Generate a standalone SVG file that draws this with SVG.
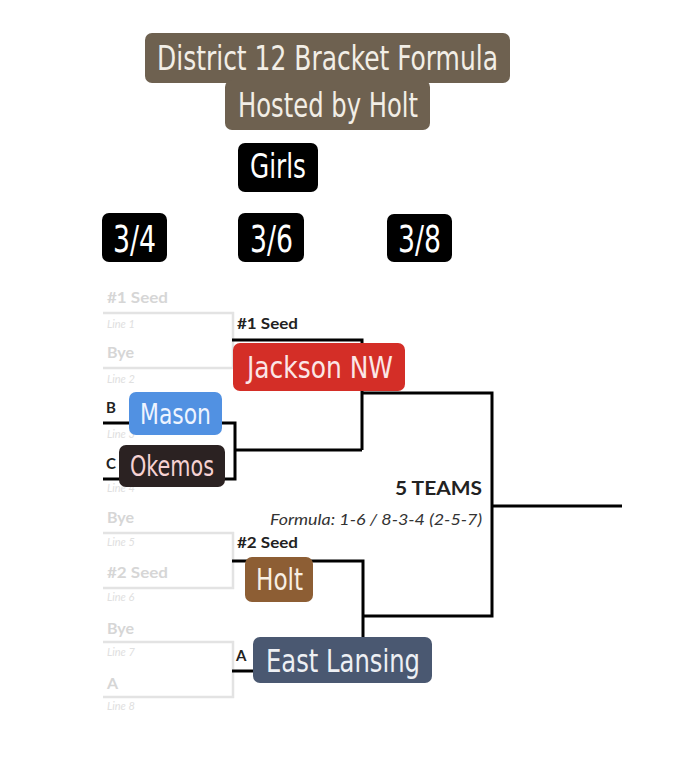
<svg xmlns="http://www.w3.org/2000/svg" width="700" height="768" viewBox="0 0 700 768">
<style>
.cond{font-family:"Liberation Sans Narrow","DejaVu Sans Condensed","Roboto",sans-serif;font-stretch:condensed}
.fade{fill:#d6d6d6;font-family:Lato,"Open Sans",sans-serif;font-weight:bold;font-size:16px}
.fline{fill:#e0e0e0;font-family:Lato,"Open Sans",sans-serif;font-style:italic;font-size:11px}
.gl{stroke:#e3e3e3;stroke-width:2.5;fill:none}
.bl{stroke:#000;stroke-width:3;fill:none}
.lab{fill:#222;font-family:Lato,"Open Sans",sans-serif;font-weight:bold;font-size:15px}
</style>
<rect width="700" height="768" fill="#fff"/>
<g id="title">
<rect x="145" y="33" width="365" height="50" rx="7" fill="#6e6150"/>
<rect x="225" y="80" width="205" height="50" rx="7" fill="#6e6150"/>
<text class="cond" x="157" y="70" font-size="34" fill="#f2eee6" textLength="341" lengthAdjust="spacingAndGlyphs">District 12 Bracket Formula</text>
<text class="cond" x="238" y="117" font-size="34" fill="#f2eee6" textLength="180" lengthAdjust="spacingAndGlyphs">Hosted by Holt</text>
</g>
<g id="girls">
<rect x="238" y="143" width="80" height="49" rx="7" fill="#000"/>
<text class="cond" x="250" y="178" font-size="34" fill="#fff" textLength="56" lengthAdjust="spacingAndGlyphs">Girls</text>
</g>
<g id="d34"><rect x="102" y="213" width="65" height="49" rx="7" fill="#000"/><text class="cond" x="113" y="252" font-size="37" fill="#fff" textLength="43" lengthAdjust="spacingAndGlyphs">3/4</text></g>
<g id="d36"><rect x="238" y="213" width="66" height="49" rx="7" fill="#000"/><text class="cond" x="250" y="252" font-size="37" fill="#fff" textLength="43" lengthAdjust="spacingAndGlyphs">3/6</text></g>
<g id="d38"><rect x="387" y="214" width="65" height="48" rx="7" fill="#000"/><text class="cond" x="398" y="252" font-size="37" fill="#fff" textLength="43" lengthAdjust="spacingAndGlyphs">3/8</text></g>
<g id="faded">
<path class="gl" d="M103 313H233V368H103M103 533H233V588H103M103 642H233V697H103"/>
<text class="fade" x="107" y="303" textLength="61" lengthAdjust="spacingAndGlyphs">#1 Seed</text>
<text class="fline" x="107" y="328">Line 1</text>
<text class="fade" x="107" y="358">Bye</text>
<text class="fline" x="107" y="383">Line 2</text>
<text class="fline" x="107" y="438">Line 3</text>
<text class="fline" x="107" y="492">Line 4</text>
<text class="fade" x="107" y="523">Bye</text>
<text class="fline" x="107" y="546">Line 5</text>
<text class="fade" x="107" y="578" textLength="61" lengthAdjust="spacingAndGlyphs">#2 Seed</text>
<text class="fline" x="107" y="601">Line 6</text>
<text class="fade" x="107" y="634">Bye</text>
<text class="fline" x="107" y="656">Line 7</text>
<text class="fade" x="107" y="689">A</text>
<text class="fline" x="107" y="710">Line 8</text>
</g>
<g id="connectors">
<path class="bl" d="M103 423H235V479H103M235 450H362M232 340H362V450M232 561H363V637M363 616H492V393H362M492 506H622M232 671H256"/>
</g>
<g id="labels">
<text class="lab" x="237" y="329" textLength="61" lengthAdjust="spacingAndGlyphs">#1 Seed</text>
<text class="lab" x="237" y="548" textLength="61" lengthAdjust="spacingAndGlyphs">#2 Seed</text>
<text class="lab" x="106" y="413">B</text>
<text class="lab" x="106" y="469">C</text>
<text class="lab" x="236" y="661">A</text>
<text x="482" y="495" text-anchor="end" font-family="Lato,'Open Sans',sans-serif" font-weight="bold" font-size="19" fill="#222" textLength="87" lengthAdjust="spacingAndGlyphs">5 TEAMS</text>
<text x="482" y="525" text-anchor="end" font-family="Lato,'Open Sans',sans-serif" font-style="italic" font-size="16" fill="#333" textLength="212" lengthAdjust="spacingAndGlyphs">Formula: 1-6 / 8-3-4 (2-5-7)</text>
</g>
<g id="jackson"><rect x="233" y="343" width="172" height="48" rx="7" fill="#d42e27"/><text class="cond" x="247" y="378" font-size="31" fill="#fbe6e6" textLength="146" lengthAdjust="spacingAndGlyphs">Jackson NW</text></g>
<g id="mason"><rect x="129" y="392" width="93" height="43" rx="7" fill="#5191e2"/><text class="cond" x="140" y="424" font-size="29" fill="#eef4ff" textLength="71" lengthAdjust="spacingAndGlyphs">Mason</text></g>
<g id="okemos"><rect x="119" y="445" width="106" height="42" rx="7" fill="#2b2222"/><text class="cond" x="130" y="476" font-size="29" fill="#f6d2d2" textLength="84" lengthAdjust="spacingAndGlyphs">Okemos</text></g>
<g id="holt"><rect x="245" y="557" width="68" height="45" rx="7" fill="#8d5e34"/><text class="cond" x="256" y="590" font-size="30" fill="#f8efe4" textLength="47" lengthAdjust="spacingAndGlyphs">Holt</text></g>
<g id="eastlansing"><rect x="253" y="637" width="179" height="46" rx="7" fill="#4a5871"/><text class="cond" x="266" y="672" font-size="32" fill="#eef0f4" textLength="154" lengthAdjust="spacingAndGlyphs">East Lansing</text></g>
</svg>
